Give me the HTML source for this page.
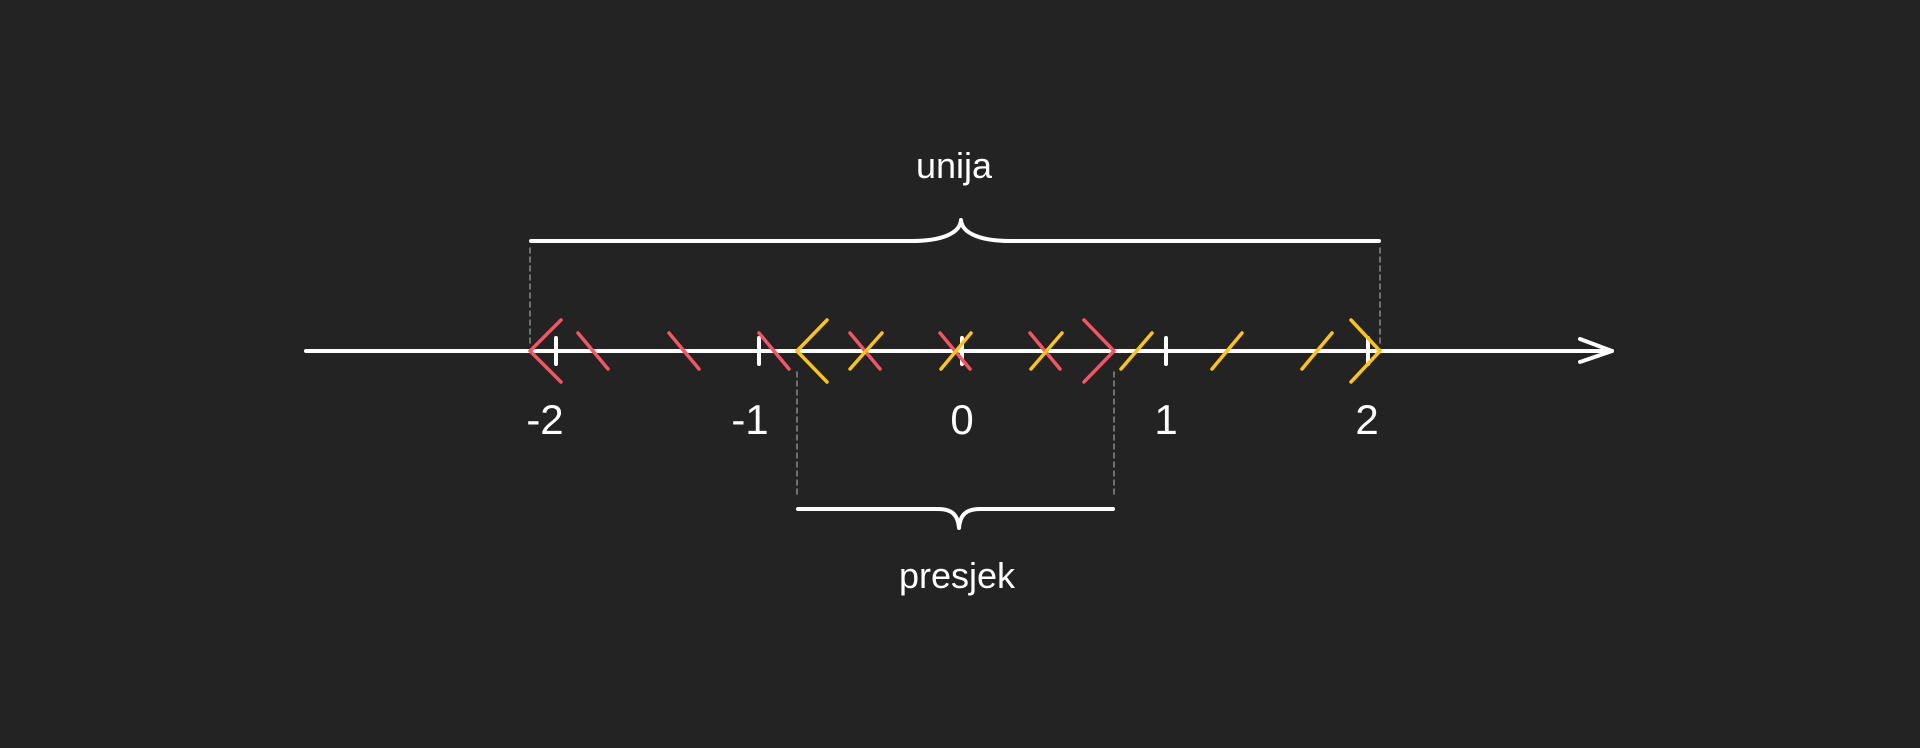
<!DOCTYPE html>
<html><head><meta charset="utf-8"><style>html,body{margin:0;padding:0;background:#232323}svg{display:block}</style></head>
<body>
<svg width="1920" height="748" viewBox="0 0 1920 748" xmlns="http://www.w3.org/2000/svg">
<rect width="1920" height="748" fill="#232323"/>
<g stroke-linecap="round" stroke-linejoin="round" fill="none">
<!-- dashed guides -->
<g stroke="#8a8a8a" stroke-width="1.5" stroke-dasharray="5,4">
<line x1="530" y1="248" x2="530" y2="346"/>
<line x1="1380" y1="248" x2="1380" y2="346"/>
<line x1="797" y1="372" x2="797" y2="497"/>
<line x1="1114" y1="372" x2="1114" y2="497"/>
</g>
<!-- axis -->
<g stroke="#ffffff" stroke-width="4">
<line x1="306" y1="351" x2="1612" y2="351"/>
<polyline points="1580,339 1612,351 1580,362"/>
<line x1="556" y1="338" x2="556" y2="364"/>
<line x1="759" y1="338" x2="759" y2="364"/>
<line x1="962" y1="338" x2="962" y2="364"/>
<line x1="1166" y1="338" x2="1166" y2="364"/>
<line x1="1368" y1="338" x2="1368" y2="364"/>
<!-- top brace -->
<path d="M531,241 L912,241 C940,241 960,234 961,220 C962,234 982,241 1010,241 L1379,241"/>
<!-- bottom brace -->
<path d="M798,509 L938,509 C952,509 958,515 959,528 C960,515 966,509 980,509 L1113,509"/>
</g>
<!-- red -->
<g stroke="#f25563" stroke-width="3.5">
<polyline points="561,320 530,351 561,382"/>
<polyline points="1084,320 1114,351 1084,382"/>
<line x1="578" y1="333" x2="608" y2="369"/>
<line x1="669" y1="333" x2="699" y2="369"/>
<line x1="759" y1="333" x2="789" y2="369"/>
<line x1="850" y1="333" x2="880" y2="369"/>
<line x1="940" y1="333" x2="970" y2="369"/>
<line x1="1030" y1="333" x2="1060" y2="369"/>
</g>
<!-- yellow -->
<g stroke="#fcc419" stroke-width="3.5">
<polyline points="827,320 797,351 827,382"/>
<polyline points="1351,320 1380,351 1351,382"/>
<line x1="882" y1="333" x2="850" y2="369"/>
<line x1="971" y1="333" x2="941" y2="369"/>
<line x1="1062" y1="333" x2="1031" y2="369"/>
<line x1="1152" y1="333" x2="1121" y2="369"/>
<line x1="1242" y1="333" x2="1212" y2="369"/>
<line x1="1332" y1="333" x2="1302" y2="369"/>
</g>
</g>
<g fill="#ffffff" font-family="Liberation Sans, sans-serif" text-anchor="middle">
<text x="545" y="434" font-size="42">-2</text>
<text x="750" y="434" font-size="42">-1</text>
<text x="962" y="434" font-size="42">0</text>
<text x="1166" y="434" font-size="42">1</text>
<text x="1367" y="434" font-size="42">2</text>
<text x="954" y="178" font-size="36">unija</text>
<text x="957" y="588" font-size="36">presjek</text>
</g>
</svg>
</body></html>
